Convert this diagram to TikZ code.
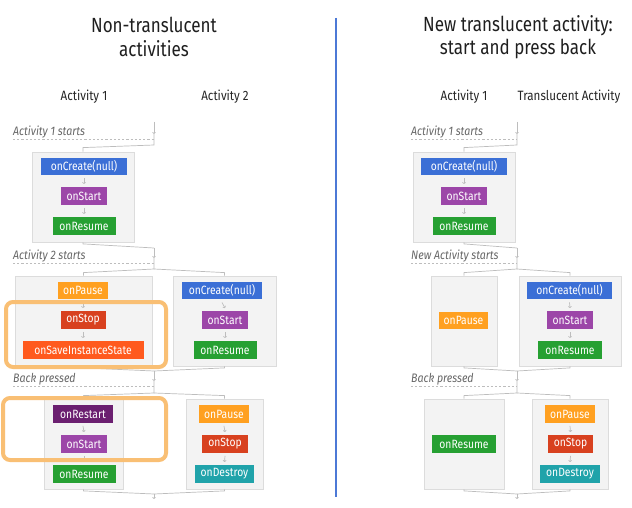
\documentclass[tikz,border=0pt]{standalone}
\usepackage{fontspec}
\newfontfamily\rfont[FakeStretch=0.86]{Fira Sans}
\newfontfamily\rfontt[FakeStretch=0.83]{Fira Sans}
\usetikzlibrary{arrows.meta}
\definecolor{cblue}{HTML}{3B6FD6}
\definecolor{cpurple}{HTML}{9C46A8}
\definecolor{cgreen}{HTML}{26A032}
\definecolor{corange}{HTML}{FFA020}
\definecolor{cred}{HTML}{D8411F}
\definecolor{cdeep}{HTML}{FF5A1E}
\definecolor{cdark}{HTML}{6B1F70}
\definecolor{cteal}{HTML}{20A3AA}
\definecolor{gfill}{HTML}{F3F3F3}
\definecolor{gline}{HTML}{DCDCDC}
\definecolor{hl}{HTML}{F9BF74}
\definecolor{divblue}{HTML}{4C79D6}
\definecolor{connc}{HTML}{BDBDBD}
\definecolor{labc}{HTML}{666666}
\begin{document}
\begin{tikzpicture}[x=1pt,y=-1pt,
  item/.style={rectangle,minimum height=17.5pt,inner sep=0pt,text=white,
    font=\rfont\fontsize{12}{13}\selectfont},
  grp/.style={rectangle,draw=gline,fill=gfill,line width=0.8pt,minimum height=90pt,inner sep=0pt},
  conn/.style={draw=connc,line width=0.7pt},
  tipc/.style={conn,-{To[length=2pt,width=3.5pt]}},
  dsh/.style={draw=connc,line width=0.7pt,dash pattern=on 2.2pt off 2pt},
  lab/.style={anchor=west,inner sep=0pt,text=labc,font=\rfont\itshape\fontsize{12.3}{13}\selectfont},
  head/.style={inner sep=0pt,text=black!85,font=\rfont\fontsize{13.5}{15}\selectfont},
  ttl/.style={inner sep=0pt,align=center,text=black!88,font=\rfontt\fontsize{20.5}{23.5}\selectfont},
  hlbox/.style={draw=hl,line width=4pt,rounded corners=7pt}
]
\useasboundingbox[fill=white] (0,0) rectangle (632,508);
% titles
\node[ttl] (t1) at (154,37) {Non-translucent\\activities};
\node[ttl] (t2) at (518,37) {New translucent activity:\\start and press back};
\draw[draw=divblue,line width=1.2pt] (336,18) coordinate (d1) -- (336,497) coordinate (d2);
\node[head] (h1) at (84,97) {Activity 1};
\node[head] (h2) at (225,97) {Activity 2};
\node[head] (h3) at (464,97) {Activity 1};
\node[head] (h4) at (569,97) {Translucent Activity};
% phase labels
\node[lab] (p1) at (13,132) {Activity 1 starts};
\node[lab] (p2) at (13,256) {Activity 2 starts};
\node[lab] (p3) at (13,379) {Back pressed};
\node[lab] (q1) at (411,132) {Activity 1 starts};
\node[lab] (q2) at (411,256) {New Activity starts};
\node[lab] (q3) at (411,379) {Back pressed};
\draw[dsh] (13,139) coordinate (pd1) -- (154,139) coordinate (pd1e);
\draw[dsh] (13,263) coordinate (pd2) -- (154,263) coordinate (pd2e);
\draw[dsh] (13,386) coordinate (pd3) -- (154,386) coordinate (pd3e);
\draw[dsh] (411,139) coordinate (qd1) -- (517,139) coordinate (qd1e);
\draw[dsh] (411,263) coordinate (qd2) -- (517,263) coordinate (qd2e);
\draw[dsh] (411,386) coordinate (qd3) -- (517,386) coordinate (qd3e);
% ---------- left panel groups ----------
\node[grp,minimum width=102pt] (A1) at (83,197) {};
\node[grp,minimum width=137pt] (B1) at (83.5,321) {};
\node[grp,minimum width=103pt] (B2) at (224.5,321) {};
\node[grp,minimum width=79pt] (C1) at (83.5,444) {};
\node[grp,minimum width=77pt] (C2) at (224.5,444) {};
% ---------- right panel groups ----------
\node[grp,minimum width=102pt] (RA1) at (464,197) {};
\node[grp,minimum width=66pt] (RB1) at (464,321) {};
\node[grp,minimum width=102pt] (RB2) at (570,321) {};
\node[grp,minimum width=80pt] (RC1) at (464,444) {};
\node[grp,minimum width=76pt] (RC2) at (570,444) {};
% ---------- left items ----------
\node[item,fill=cblue,minimum width=86pt] (a1) at (84,166.5) {onCreate(null)};
\node[item,fill=cpurple,minimum width=46pt] (a2) at (84,196) {onStart};
\node[item,fill=cgreen,minimum width=63pt] (a3) at (84,226) {onResume};
\node[item,fill=corange,minimum width=50pt] (b1) at (83,290.5) {onPause};
\node[item,fill=cred,minimum width=45pt] (b2) at (83,320) {onStop};
\node[item,fill=cdeep,minimum width=121pt] (b3) at (83,350) {onSaveInstanceState};
\node[item,fill=cblue,minimum width=80pt] (b4) at (222,290.5) {onCreate(null)};
\node[item,fill=cpurple,minimum width=46pt] (b5) at (225,320) {onStart};
\node[item,fill=cgreen,minimum width=63pt] (b6) at (225,350) {onResume};
\node[item,fill=cdark,minimum width=60pt] (c1) at (83,414) {onRestart};
\node[item,fill=cpurple,minimum width=46pt] (c2) at (84,444) {onStart};
\node[item,fill=cgreen,minimum width=63pt] (c3) at (84,474) {onResume};
\node[item,fill=corange,minimum width=50pt] (c4) at (224,414) {onPause};
\node[item,fill=cred,minimum width=46pt] (c5) at (225,444) {onStop};
\node[item,fill=cteal,minimum width=59pt] (c6) at (224.5,474) {onDestroy};
% ---------- right items ----------
\node[item,fill=cblue,minimum width=86pt] (ra1) at (464,166.5) {onCreate(null)};
\node[item,fill=cpurple,minimum width=46pt] (ra2) at (464,196) {onStart};
\node[item,fill=cgreen,minimum width=63pt] (ra3) at (464,226) {onResume};
\node[item,fill=corange,minimum width=49pt] (rb1) at (463.5,320.5) {onPause};
\node[item,fill=cblue,minimum width=85pt] (rb4) at (569.5,290.5) {onCreate(null)};
\node[item,fill=cpurple,minimum width=46pt] (rb5) at (570,320) {onStart};
\node[item,fill=cgreen,minimum width=64pt] (rb6) at (570,350) {onResume};
\node[item,fill=cgreen,minimum width=64pt] (rc1) at (464,444) {onResume};
\node[item,fill=corange,minimum width=50pt] (rc4) at (570,414) {onPause};
\node[item,fill=cred,minimum width=45pt] (rc5) at (570.5,444) {onStop};
\node[item,fill=cteal,minimum width=60pt] (rc6) at (570,474) {onDestroy};
% small arrows between items
\foreach \u/\v in {a1/a2,a2/a3,b1/b2,b2/b3,b4/b5,b5/b6,c1/c2,c2/c3,c4/c5,c5/c6,
                   ra1/ra2,ra2/ra3,rb4/rb5,rb5/rb6,rc4/rc5,rc5/rc6}
  \draw[tipc] ([yshift=-3pt]\u.south) -- ([yshift=3pt]\v.north);
% ---------- left spine ----------
\coordinate (L0) at (154,122); \coordinate (L0a) at (154,134); \coordinate (L0b) at (154,145);
\draw[tipc] (L0) -- (L0a);
\draw[conn] (L0a) -- (L0b) -- ([yshift=4pt]A1.north) -- (A1.north);
\coordinate (L1) at (154,248); \coordinate (L1a) at (154,258); \coordinate (L1b) at (154,269);
\draw[conn] (A1.south) -- ([yshift=-1.5pt]A1.south) -- (L1);
\draw[tipc] (L1) -- (L1a);
\draw[conn] (L1a) -- (L1b) -- ([yshift=3pt]B1.north) -- (B1.north);
\draw[conn] (L1b) -- ([yshift=3pt]B2.north) -- (B2.north);
\coordinate (L2) at (154,371); \coordinate (L2a) at (154,381); \coordinate (L2b) at (154,393);
\draw[conn] (B1.south) -- ([yshift=-1.5pt]B1.south) -- (L2);
\draw[conn] (B2.south) -- ([yshift=-1.5pt]B2.south) -- (L2);
\draw[tipc] (L2) -- (L2a);
\draw[conn] (L2a) -- (L2b) -- ([yshift=3pt]C1.north) -- (C1.north);
\draw[conn] (L2b) -- ([yshift=3pt]C2.north) -- (C2.north);
\coordinate (L3) at (154,494); \coordinate (L3a) at (154,499);
\draw[conn] (C1.south) -- ([yshift=-1.5pt]C1.south) -- (L3);
\draw[conn] (C2.south) -- ([yshift=-1.5pt]C2.south) -- (L3);
\draw[tipc] (L3) -- (L3a);
% ---------- right spine ----------
\coordinate (R0) at (517,122); \coordinate (R0a) at (517,134); \coordinate (R0b) at (517,145);
\draw[tipc] (R0) -- (R0a);
\draw[conn] (R0a) -- (R0b) -- ([yshift=4pt]RA1.north) -- (RA1.north);
\coordinate (R1) at (517,248); \coordinate (R1a) at (517,258); \coordinate (R1b) at (517,269);
\draw[conn] (RA1.south) -- ([yshift=-1.5pt]RA1.south) -- (R1);
\draw[tipc] (R1) -- (R1a);
\draw[conn] (R1a) -- (R1b) -- ([yshift=3pt]RB1.north) -- (RB1.north);
\draw[conn] (R1b) -- ([yshift=3pt]RB2.north) -- (RB2.north);
\coordinate (R2) at (517,371); \coordinate (R2a) at (517,381); \coordinate (R2b) at (517,393);
\draw[conn] (RB1.south) -- ([yshift=-1.5pt]RB1.south) -- (R2);
\draw[conn] (RB2.south) -- ([yshift=-1.5pt]RB2.south) -- (R2);
\draw[tipc] (R2) -- (R2a);
\draw[conn] (R2a) -- (R2b) -- ([yshift=3pt]RC1.north) -- (RC1.north);
\draw[conn] (R2b) -- ([yshift=3pt]RC2.north) -- (RC2.north);
\coordinate (R3) at (517,494); \coordinate (R3a) at (517,499);
\draw[conn] (RC1.south) -- ([yshift=-1.5pt]RC1.south) -- (R3);
\draw[conn] (RC2.south) -- ([yshift=-1.5pt]RC2.south) -- (R3);
\draw[tipc] (R3) -- (R3a);
% ---------- highlights ----------
\draw[hlbox] (6,302) coordinate (hA) rectangle (166,367) coordinate (hB);
\draw[hlbox] (3,398) coordinate (hC) rectangle (166,460) coordinate (hD);
\end{tikzpicture}
\end{document}
